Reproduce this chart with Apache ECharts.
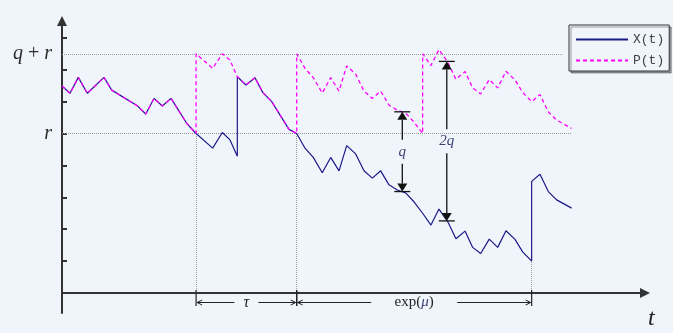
<!DOCTYPE html>
<html>
<head>
<meta charset="utf-8">
<style>
  html, body { margin: 0; padding: 0; background: #f0f5fc; }
  #chart { width: 673px; height: 333px; }
</style>
<script src="https://cdn.jsdelivr.net/npm/echarts@6/dist/echarts.min.js"></script>
</head>
<body>
<div id="chart"></div>
<script>
// Process X(t) and its reflected barrier P(t); jumps appear as repeated times.
const timeX = [0, 0.96, 1.96, 3.04, 5.04, 5.97, 9.09, 10.05, 11.05, 12.05, 13.09, 14.97, 16.1,
  18.09, 19.25, 20.17, 21.05, 21.05, 22.09, 23.17, 24.1, 25.18, 27.25, 28.18,
  29.18, 30.17, 31.25, 32.26, 33.26, 34.18, 35.26, 36.26, 37.26, 38.26, 39.26, 40.26, 41.26, 42.26, 43.3,
  44.3, 45.26, 46.31, 47.3, 48.39, 49.31, 50.27, 51.3, 52.31, 53.31, 54.39, 55.31, 56.39, 56.39,
  57.39, 58.39, 59.39, 61.19];
const valueX = [6.49, 6.26, 6.76, 6.26, 6.76, 6.36, 5.86, 5.61, 6.10, 5.86, 6.10, 5.32, 5.0,
  4.54, 5.03, 4.80, 4.29, 6.78, 6.52, 6.75, 6.29, 6.0, 5.13, 5.0,
  4.54, 4.25, 3.77, 4.25, 3.83, 4.62, 4.36, 3.83, 3.60, 3.83, 3.39, 3.23, 3.14, 2.86, 2.5,
  2.13, 2.63, 2.24, 1.70, 1.94, 1.43, 1.24, 1.69, 1.43, 1.95, 1.68, 1.29, 1.0, 3.5,
  3.72, 3.18, 2.92, 2.66];

const timeP = [0, 0.96, 1.96, 3.04, 5.04, 5.97, 9.09, 10.05, 11.05, 12.05, 13.09, 14.97, 16.1, 16.1,
  18.09, 19.25, 20.17, 21.05, 22.09, 23.17, 24.1, 25.18, 27.25, 28.18, 28.18,
  29.18, 30.17, 31.25, 32.26, 33.26, 34.18, 35.26, 36.26, 37.26, 38.26, 39.26, 40.26, 41.26, 42.26, 43.3, 43.3,
  44.3, 45.26, 46.31, 47.3, 48.39, 49.31, 50.27, 51.3, 52.31, 53.31, 54.39, 55.31, 56.39,
  57.39, 58.39, 59.39, 61.19];
const valueP = [6.49, 6.26, 6.76, 6.26, 6.76, 6.36, 5.86, 5.61, 6.10, 5.86, 6.10, 5.32, 5.0, 7.5,
  7.04, 7.5, 7.30, 6.78, 6.52, 6.75, 6.29, 6.0, 5.13, 5.0, 7.5,
  7.04, 6.75, 6.27, 6.75, 6.33, 7.12, 6.86, 6.33, 6.10, 6.33, 5.89, 5.73, 5.64, 5.36, 5.0, 7.5,
  7.13, 7.63, 7.24, 6.70, 6.94, 6.43, 6.24, 6.69, 6.43, 6.95, 6.68, 6.29, 6.0,
  6.22, 5.68, 5.42, 5.16];

// Levels r and q + r, and where each guide line ends
const levelValues = [5, 7.5];
const levelLabels = ['r', 'q + r'];
const levelEnds = [61.19, 60.1];

// Times that bound the waiting periods, with the floor of each guide
const periodTimes = [16.1, 28.18, 56.39];
const periodFloors = [5, 5, 1.0];
const periodLabels = ['τ', 'exp(μ)'];

// Distance markers between X and P
const gapTimes = [40.86, 46.2];
const gapLow = [3.18, 2.26];
const gapHigh = [5.68, 7.26];
const gapLabels = ['q', '2q'];

const yTicks = [1, 2, 3, 4, 5, 6, 7, 8];

const BG = '#f0f5fc';
const AXIS = '#333';
const SERIF = '"Liberation Serif", "DejaVu Serif", serif';
const GUIDE = { color: '#9a9a9a', width: 1, type: [1, 1] };

const zip = (a, b) => a.map((v, i) => [v, b[i]]);

const guideLines = [];
levelValues.forEach((v, i) => guideLines.push([{ coord: [0, v] }, { coord: [levelEnds[i], v] }]));
periodTimes.forEach((t, i) => guideLines.push([{ coord: [t, 0] }, { coord: [t, periodFloors[i]] }]));

const chart = echarts.init(document.getElementById('chart'), null, { renderer: 'canvas' });

chart.setOption({
  backgroundColor: BG,
  animation: false,
  grid: { left: 62, right: 28, top: 21, bottom: 20 },
  graphic: [{
    // time axis name, set below the arrow head
    type: 'text',
    left: 648,
    top: 307,
    silent: true,
    style: { text: 't', font: 'italic 24px ' + SERIF, fill: '#222' }
  }],
  legend: {
    orient: 'vertical',
    left: 569,
    top: 25,
    padding: [8, 5, 4, 6],
    itemGap: 8,
    itemWidth: 52,
    itemHeight: 14,
    backgroundColor: BG,
    borderColor: '#333',
    borderWidth: 1,
    shadowColor: 'rgba(0,0,0,0.35)',
    shadowOffsetX: 2,
    shadowOffsetY: 2,
    shadowBlur: 0,
    itemStyle: { opacity: 0 },
    textStyle: { fontFamily: '"Liberation Mono", "DejaVu Sans Mono", monospace', fontSize: 13, color: '#444' },
    data: ['X(t)', 'P(t)']
  },
  xAxis: {
    type: 'value',
    min: 0,
    max: 70,
    axisLine: {
      onZero: true,
      symbol: ['none', 'triangle'],
      symbolSize: [10, 10],
      lineStyle: { color: AXIS, width: 2 }
    },
    axisTick: { show: false },
    axisLabel: { show: false },
    splitLine: { show: false }
  },
  yAxis: {
    type: 'value',
    min: -20 / 31.9,
    max: 272 / 31.9,
    axisLine: {
      onZero: true,
      symbol: ['none', 'triangle'],
      symbolSize: [10, 10],
      lineStyle: { color: AXIS, width: 2 }
    },
    axisTick: {
      inside: true,
      length: 5,
      customValues: yTicks,
      lineStyle: { color: AXIS, width: 2 }
    },
    axisLabel: {
      customValues: levelValues,
      margin: 10,
      fontFamily: SERIF,
      fontSize: 20,
      color: '#2b2b2b',
      formatter: (v) => {
        const s = levelLabels[levelValues.indexOf(v)] || '';
        return s.replace(/([a-z])/g, '{i|$1}');
      },
      rich: { i: { fontFamily: SERIF, fontStyle: 'italic', fontSize: 20, color: '#2b2b2b' } }
    },
    splitLine: { show: false }
  },
  series: [
    {
      name: 'X(t)',
      type: 'line',
      data: zip(timeX, valueX),
      symbol: 'none',
      z: 3,
      lineStyle: { color: '#1a1a86', width: 1.2 },
      itemStyle: { color: '#1a1a86' },
      markLine: {
        silent: true,
        symbol: 'none',
        label: { show: false },
        lineStyle: GUIDE,
        data: guideLines,
        z: 1
      }
    },
    {
      name: 'P(t)',
      type: 'line',
      data: zip(timeP, valueP),
      symbol: 'none',
      z: 4,
      lineStyle: { color: '#ff00ff', width: 1.3, type: [4, 3] },
      itemStyle: { color: '#ff00ff' }
    },
    {
      // vertical double arrows showing q and 2q between the two paths
      type: 'custom',
      z: 5,
      clip: false,
      silent: true,
      data: gapTimes.map((t, i) => [t, gapLow[i], gapHigh[i]]),
      renderItem: (params, api) => {
        const top = api.coord([api.value(0), api.value(2)]);
        const bot = api.coord([api.value(0), api.value(1)]);
        const x = top[0];
        const mid = (top[1] + bot[1]) / 2;
        const gap = 12;
        const ink = '#111';
        const line = (x1, y1, x2, y2) => ({
          type: 'line', shape: { x1, y1, x2, y2 }, style: { stroke: ink, lineWidth: 1.3 }
        });
        return {
          type: 'group',
          children: [
            line(x - 8, top[1], x + 8, top[1]),
            { type: 'polygon', shape: { points: [[x, top[1]], [x - 5, top[1] + 8], [x + 5, top[1] + 8]] }, style: { fill: ink } },
            line(x, top[1] + 8, x, mid - gap),
            line(x, mid + gap, x, bot[1] - 8),
            { type: 'polygon', shape: { points: [[x, bot[1]], [x - 5, bot[1] - 8], [x + 5, bot[1] - 8]] }, style: { fill: ink } },
            line(x - 8, bot[1], x + 8, bot[1]),
            {
              type: 'text',
              style: {
                x: x, y: mid, text: gapLabels[params.dataIndex],
                align: 'center', verticalAlign: 'middle',
                font: 'italic 15px ' + SERIF, fill: '#3a4270'
              }
            }
          ]
        };
      }
    },
    {
      // dimension arrows under the time axis for τ and exp(μ)
      type: 'custom',
      z: 5,
      clip: false,
      silent: true,
      data: periodLabels.map((s, i) => [periodTimes[i], periodTimes[i + 1]]),
      renderItem: (params, api) => {
        const a = api.coord([api.value(0), 0]);
        const b = api.coord([api.value(1), 0]);
        const y0 = a[1];
        const y = y0 + 9.5;
        const xa = a[0], xb = b[0];
        const xc = (xa + xb) / 2;
        const label = periodLabels[params.dataIndex];
        const gap = label.length > 1 ? 43 : 12;
        const ink = '#222';
        const line = (x1, y1, x2, y2, w) => ({
          type: 'line', shape: { x1, y1, x2, y2 }, style: { stroke: ink, lineWidth: w || 1 }
        });
        const children = [
          line(xa, y0 - 3, xa, y0 + 13, 1.2),
          line(xb, y0 - 3, xb, y0 + 13, 1.2),
          line(xa + 1, y, xc - gap, y),
          line(xc + gap, y, xb - 1, y),
          line(xa + 1, y, xa + 6, y - 2.5),
          line(xa + 1, y, xa + 6, y + 2.5),
          line(xb - 1, y, xb - 6, y - 2.5),
          line(xb - 1, y, xb - 6, y + 2.5)
        ];
        const rich = label.length > 1
          ? { text: '{n|exp(}{i|μ}{n|)}', rich: { n: { fontFamily: SERIF, fontSize: 15, fill: ink }, i: { fontFamily: SERIF, fontStyle: 'italic', fontSize: 15, fill: '#3a4270' } } }
          : { text: '{i|' + label + '}', rich: { i: { fontFamily: SERIF, fontStyle: 'italic', fontSize: 16, fill: ink } } };
        children.push({
          type: 'text',
          style: Object.assign({ x: xc, y: y, align: 'center', verticalAlign: 'middle' }, rich)
        });
        return { type: 'group', children };
      }
    }
  ]
});
</script>
</body>
</html>
